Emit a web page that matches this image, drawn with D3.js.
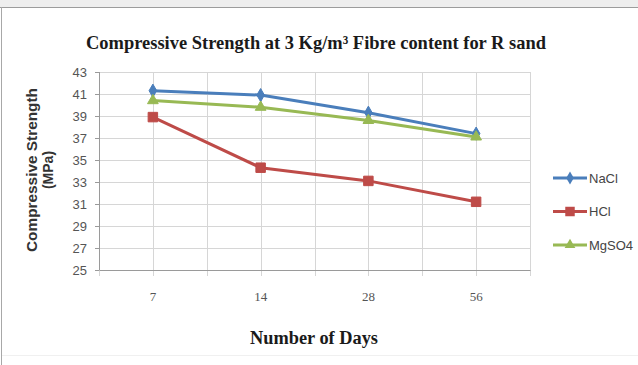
<!DOCTYPE html>
<html lang="en">
<head>
  <meta charset="UTF-8">
  <title>Compressive Strength</title>
  <script src="https://d3js.org/d3.v7.min.js"></script>
  <style>
    body { margin: 0; background: #fff; }
    svg { display: block; }
    .grid line { stroke: #d6d6d6; stroke-width: 1; }
    .axis path, .axis line { stroke: #9a9a9a; }
    .axis text { fill: #555; font-family: "Liberation Sans Narrow", "Liberation Sans", sans-serif; font-size: 13px; }
  </style>
</head>
<body>
  <svg width="638" height="365"></svg>
  <script>
    const days = ["7", "14", "28", "56"];
    const nacl = [41.3, 40.9, 39.3, 37.4];
    const hcl = [38.9, 34.3, 33.1, 31.2];
    const mgso4 = [40.4, 39.8, 38.6, 37.1];
    const yTicks = [25, 27, 29, 31, 33, 35, 37, 39, 41, 43];

    const series = [
      { name: "NaCl", values: nacl, color: "#4a7ebb", symbol: d3.symbolDiamond, size: 50 },
      { name: "HCl", values: hcl, color: "#be4b48", symbol: d3.symbolSquare, size: 90 },
      { name: "MgSO4", values: mgso4, color: "#98b954", symbol: d3.symbolTriangle, size: 50 }
    ];

    const svg = d3.select("svg");
    const pLeft = 99, pRight = 530, pTop = 72, pBottom = 270;

    // frame
    svg.append("rect").attr("x", 0).attr("y", 0).attr("width", 638).attr("height", 7).attr("fill", "#eeeeee");
    svg.append("line").attr("x1", 0).attr("x2", 638).attr("y1", 7.5).attr("y2", 7.5).attr("stroke", "#9c9c9c");
    svg.append("line").attr("x1", 1.5).attr("x2", 1.5).attr("y1", 7).attr("y2", 365).attr("stroke", "#a8a8a8");
    svg.append("line").attr("x1", 2).attr("x2", 638).attr("y1", 355.5).attr("y2", 355.5).attr("stroke", "#f0f0f0");

    const x = d3.scaleBand().domain(days).range([pLeft, pRight]);
    const y = d3.scaleLinear().domain([25, 43]).range([pBottom, pTop]);
    const cx = d => x(d) + x.bandwidth() / 2;

    // horizontal gridlines
    svg.append("g").attr("class", "grid")
      .selectAll("line").data(yTicks).enter().append("line")
      .attr("x1", pLeft).attr("x2", pRight)
      .attr("y1", d => Math.round(y(d)) + 0.5).attr("y2", d => Math.round(y(d)) + 0.5);

    // vertical gridlines at band centres and boundaries
    const vx = days.map(d => x(d)).concat(days.map(cx)).concat([pRight]);
    svg.append("g").attr("class", "grid")
      .selectAll("line").data(vx).enter().append("line")
      .attr("x1", d => Math.round(d) + 0.5).attr("x2", d => Math.round(d) + 0.5)
      .attr("y1", pTop).attr("y2", pBottom + 6);

    // axes
    svg.append("g").attr("class", "axis")
      .attr("transform", `translate(${pLeft},0)`)
      .call(d3.axisLeft(y).tickValues(yTicks).tickSize(4).tickPadding(8))
      .select(".domain").remove();
    svg.append("line").attr("x1", pLeft + 0.5).attr("x2", pLeft + 0.5).attr("y1", pTop).attr("y2", pBottom)
      .attr("stroke", "#9a9a9a");

    const xa = svg.append("g").attr("class", "axis")
      .attr("transform", `translate(0,${pBottom})`)
      .call(d3.axisBottom(x).tickSize(0).tickPadding(22));
    xa.select(".domain").attr("stroke", "#9a9a9a");
    xa.selectAll("text").style("font-family", "Liberation Serif, serif").style("font-size", "13px").attr("fill", "#555");

    // lines and markers
    const line = d3.line().x((d, i) => cx(days[i])).y(d => y(d));
    series.forEach(s => {
      svg.append("path").datum(s.values)
        .attr("d", line).attr("fill", "none")
        .attr("stroke", s.color).attr("stroke-width", 3).attr("stroke-linejoin", "round");
      svg.selectAll(null).data(s.values).enter().append("path")
        .attr("d", d3.symbol().type(s.symbol).size(s.size))
        .attr("transform", (d, i) => `translate(${cx(days[i])},${y(d)})`)
        .attr("fill", s.color).attr("stroke", s.color).attr("stroke-width", 1);
    });

    // title
    svg.append("text")
      .attr("x", 316).attr("y", 49).attr("text-anchor", "middle")
      .attr("textLength", 460).attr("lengthAdjust", "spacingAndGlyphs")
      .style("font-family", "Liberation Serif, serif").style("font-weight", "bold").style("font-size", "19px")
      .attr("fill", "#1a1a1a")
      .text("Compressive Strength at 3 Kg/m³ Fibre content for R sand");

    // y title
    const yt = svg.append("text")
      .attr("transform", "translate(0,170) rotate(-90)")
      .attr("text-anchor", "middle")
      .style("font-family", "Liberation Sans, sans-serif").style("font-weight", "bold").style("font-size", "14px")
      .attr("fill", "#333");
    yt.append("tspan").attr("x", 0).attr("y", 37).attr("textLength", 164).attr("lengthAdjust", "spacingAndGlyphs")
      .text("Compressive Strength");
    yt.append("tspan").attr("x", 0).attr("y", 53).text("(MPa)");

    // x title
    svg.append("text")
      .attr("x", 314).attr("y", 344).attr("text-anchor", "middle")
      .attr("textLength", 128).attr("lengthAdjust", "spacingAndGlyphs")
      .style("font-family", "Liberation Serif, serif").style("font-weight", "bold").style("font-size", "18px")
      .attr("fill", "#1a1a1a")
      .text("Number of Days");

    // legend
    const lg = svg.append("g").selectAll("g").data(series).enter().append("g")
      .attr("transform", (d, i) => `translate(553,${178 + i * 33.5})`);
    lg.append("line").attr("x1", 0).attr("x2", 34).attr("stroke", d => d.color).attr("stroke-width", 3);
    lg.append("path").attr("d", d => d3.symbol().type(d.symbol).size(d.size)())
      .attr("transform", "translate(17,0)").attr("fill", d => d.color);
    lg.append("text").attr("x", 36).attr("y", 4.5)
      .style("font-family", "Liberation Sans Narrow, Liberation Sans, sans-serif").style("font-size", "13px").attr("fill", "#444")
      .text(d => d.name);
  </script>
</body>
</html>
